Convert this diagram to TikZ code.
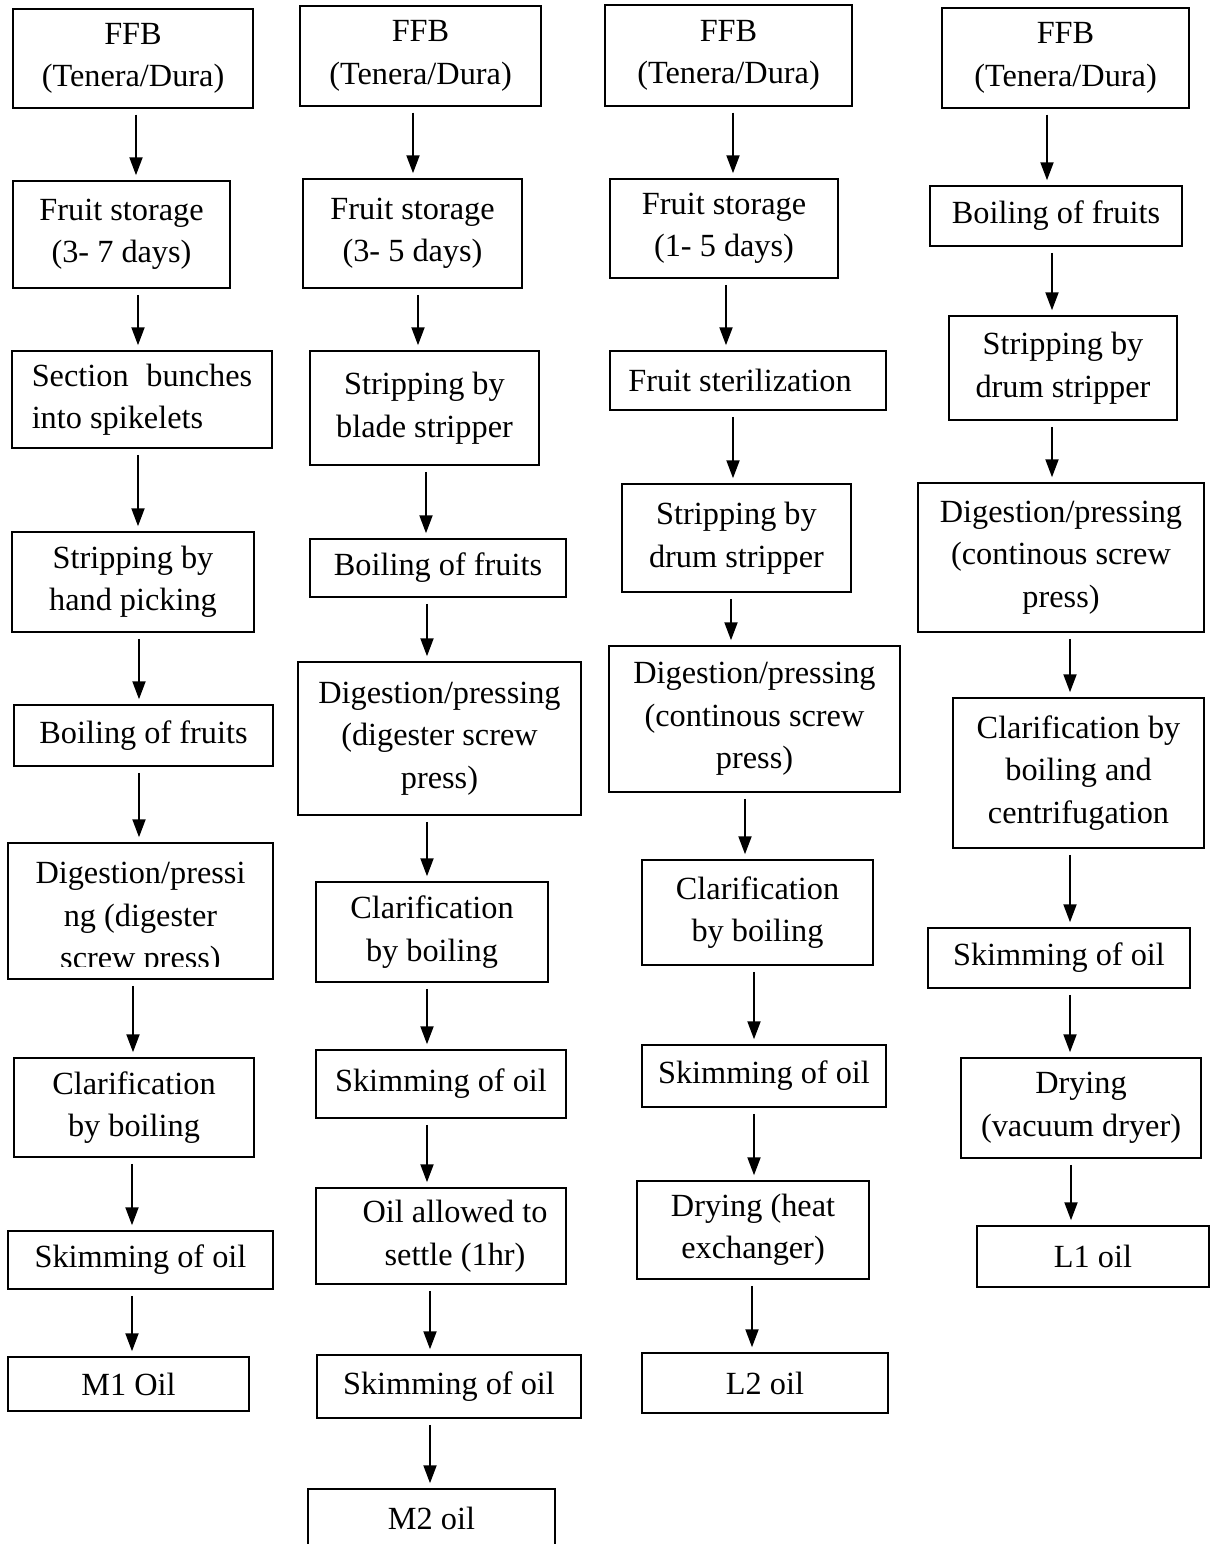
\documentclass[tikz,border=0pt]{standalone}
\usepackage{fontspec}
\setmainfont{Liberation Serif}
\usetikzlibrary{arrows.meta}

\begin{document}
\begin{tikzpicture}[x=1pt,y=-1pt,
    box/.style={draw,line width=1.5pt,inner sep=0pt,align=center,
        font=\fontsize{32.3}{42.5}\selectfont},
    sz/.style 2 args={minimum width=#1pt,minimum height=#2pt},
    flow/.style={line width=2pt,-{Triangle[width=13pt,length=18pt]},
        shorten <=6pt,shorten >=5pt}]
    \clip (0,0) rectangle (1211,1544);

    % M1
    \node[box,sz={240}{99}] (a1) at (133,58.5) {FFB\\(Tenera/Dura)};
    \node[box,sz={217}{107}] (a2) at (121.5,234.5) {Fruit storage\\(3- 7 days)};
    \node[box,sz={260}{97},align=left] (a3) at (142,399.5) {Section\hspace{0.55em}bunches\\into spikelets};
    \node[box,sz={242}{100}] (a4) at (133,582) {Stripping by\\hand picking};
    \node[box,sz={259}{61}] (a5) at (143.5,735.5) {Boiling of fruits};
    \node[box,sz={265}{136}] (a6) at (140.5,911) {};
    \begin{scope}
        \clip (8,843) rectangle (273,966);
        \node[box,draw=none] (a6t) at (140.5,919) {Digestion/pressi\\ng (digester\\screw press)};
    \end{scope}
    \node[box,sz={240}{99}] (a7) at (134,1107.5) {Clarification\\by boiling};
    \node[box,sz={265}{58}] (a8) at (140.5,1260) {Skimming of oil};
    \node[box,sz={241}{54}] (a9) at (128.5,1384) {M1 Oil};

    % M2
    \node[box,sz={241}{100}] (b1) at (420.5,56) {FFB\\(Tenera/Dura)};
    \node[box,sz={219}{109}] (b2) at (412.5,233.5) {Fruit storage\\(3- 5 days)};
    \node[box,sz={229}{114}] (b3) at (424.5,408) {Stripping by\\blade stripper};
    \node[box,sz={256}{58}] (b4) at (438,568) {Boiling of fruits};
    \node[box,sz={283}{153}] (b5) at (439.5,738.5) {Digestion/pressing\\(digester screw\\press)};
    \node[box,sz={232}{100}] (b6) at (432,932) {Clarification\\by boiling};
    \node[box,sz={250}{68}] (b7) at (441,1084) {Skimming of oil};
    \node[box,sz={250}{96},label={[box,draw=none,xshift=14pt]center:{Oil allowed to\\settle (1hr)}}] (b8) at (441,1236) {};
    \node[box,sz={264}{63}] (b9) at (449,1386.5) {Skimming of oil};
    \node[box,sz={247}{58}] (b10) at (431.5,1518) {M2 oil};

    % L2
    \node[box,sz={247}{101}] (c1) at (728.5,55.5) {FFB\\(Tenera/Dura)};
    \node[box,sz={228}{99}] (c2) at (724,228.5) {Fruit storage\\(1- 5 days)};
    \node[box,sz={276}{59},label={[box,draw=none,xshift=-8pt]center:Fruit sterilization}] (c3) at (748,380.5) {};
    \node[box,sz={229}{108}] (c4) at (736.5,538) {Stripping by\\drum stripper};
    \node[box,sz={291}{146}] (c5) at (754.5,719) {Digestion/pressing\\(continous screw\\press)};
    \node[box,sz={231}{105}] (c6) at (757.5,912.5) {Clarification\\by boiling};
    \node[box,sz={244}{62}] (c7) at (764,1076) {Skimming of oil};
    \node[box,sz={232}{98}] (c8) at (753,1230) {Drying (heat\\exchanger)};
    \node[box,sz={246}{60}] (c9) at (765,1383) {L2 oil};

    % L1
    \node[box,sz={247}{100}] (d1) at (1065.5,58) {FFB\\(Tenera/Dura)};
    \node[box,sz={252}{60}] (d2) at (1056,216) {Boiling of fruits};
    \node[box,sz={228}{104}] (d3) at (1063,368) {Stripping by\\drum stripper};
    \node[box,sz={286}{149}] (d4) at (1061,557.5) {Digestion/pressing\\(continous screw\\press)};
    \node[box,sz={251}{150}] (d5) at (1078.5,773) {Clarification by\\boiling and\\centrifugation};
    \node[box,sz={262}{60}] (d6) at (1059,958) {Skimming of oil};
    \node[box,sz={240}{100}] (d7) at (1081,1108) {Drying\\(vacuum dryer)};
    \node[box,sz={232}{61}] (d8) at (1093,1256.5) {L1 oil};

    % arrows
    \foreach \s/\t/\x in {a1/a2/136,a2/a3/138,a3/a4/138,a4/a5/139,a5/a6/139,a6/a7/133,a7/a8/132,a8/a9/132,
        b1/b2/413,b2/b3/418,b3/b4/426,b4/b5/427,b5/b6/427,b6/b7/427,b7/b8/427,b8/b9/430,b9/b10/430,
        c1/c2/733,c2/c3/726,c3/c4/733,c4/c5/731,c5/c6/745,c6/c7/754,c7/c8/754,c8/c9/752,
        d1/d2/1047,d2/d3/1052,d3/d4/1052,d4/d5/1070,d5/d6/1070,d6/d7/1070,d7/d8/1071}
    {
        \coordinate (ax) at (\x,0);
        \draw[flow] (\s.south -| ax) -- (\t.north -| ax);
    }
\end{tikzpicture}
\end{document}
